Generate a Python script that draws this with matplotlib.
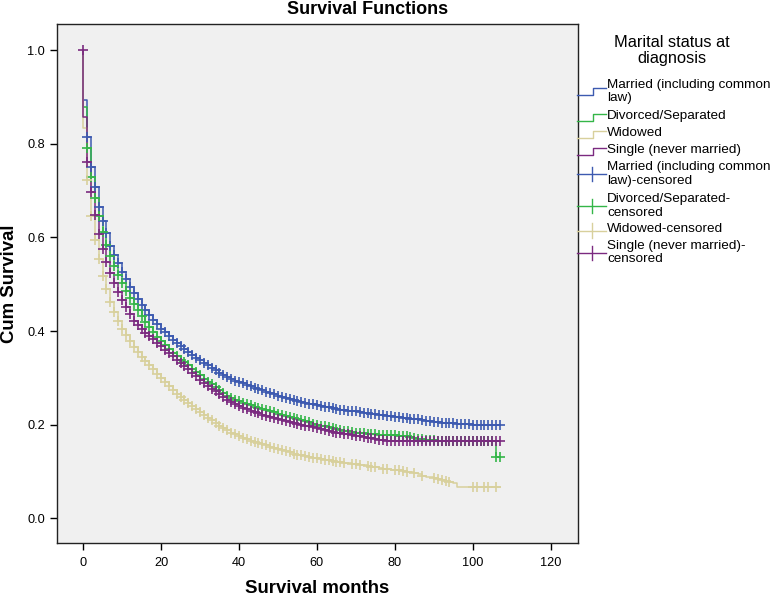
import matplotlib
matplotlib.use("Agg")
import matplotlib.pyplot as plt
from matplotlib.lines import Line2D

plt.rcParams['font.family'] = ['Liberation Sans', 'DejaVu Sans']

# ---------------- data ----------------
months = list(range(0, 108))
start_surv = 1.0

married = [0.893,0.815,0.751,0.707,0.666,0.636,0.609,0.582,0.563,0.545,
           0.527,0.511,0.495,0.481,0.468,0.456,0.445,0.434,0.424,0.414,
           0.405,0.397,0.389,0.381,0.374,0.367,0.361,0.355,0.349,0.343,
           0.338,0.332,0.327,0.322,0.316,0.311,0.306,0.301,0.297,0.294,
           0.291,0.288,0.285,0.282,0.279,0.276,0.273,0.270,0.268,0.265,
           0.262,0.260,0.257,0.255,0.252,0.250,0.248,0.246,0.245,0.243,
           0.242,0.240,0.238,0.237,0.235,0.234,0.232,0.231,0.230,0.229,
           0.228,0.227,0.225,0.224,0.223,0.222,0.221,0.220,0.219,0.218,
           0.217,0.216,0.215,0.214,0.213,0.212,0.211,0.209,0.208,0.207,
           0.206,0.205,0.204,0.204,0.203,0.203,0.202,0.202,0.201,0.201,
           0.200,0.200,0.199,0.199,0.199,0.199,0.199,0.199]

divorced = [0.878,0.792,0.730,0.684,0.645,0.612,0.584,0.560,0.538,0.519,
            0.502,0.486,0.471,0.457,0.444,0.432,0.420,0.408,0.397,0.388,
            0.379,0.370,0.362,0.354,0.346,0.339,0.333,0.327,0.319,0.312,
            0.305,0.298,0.292,0.286,0.280,0.274,0.268,0.262,0.257,0.253,
            0.250,0.247,0.244,0.241,0.238,0.236,0.233,0.231,0.228,0.226,
            0.223,0.221,0.219,0.216,0.214,0.212,0.210,0.207,0.205,0.202,
            0.200,0.198,0.196,0.194,0.192,0.190,0.188,0.187,0.186,0.184,
            0.183,0.182,0.181,0.180,0.179,0.179,0.178,0.178,0.177,0.177,
            0.177,0.176,0.176,0.175,0.173,0.171,0.170,0.169,0.168,0.167,
            0.167,0.166,0.166,0.166,0.166,0.165,0.165,0.165,0.165,0.165,
            0.165,0.165,0.165,0.165,0.165,0.165,0.130,0.130]

widowed = [0.834,0.723,0.646,0.595,0.553,0.518,0.489,0.462,0.440,0.421,
           0.405,0.391,0.378,0.366,0.355,0.345,0.336,0.327,0.318,0.308,
           0.299,0.290,0.282,0.274,0.266,0.259,0.252,0.246,0.239,0.233,
           0.227,0.221,0.215,0.209,0.203,0.198,0.193,0.188,0.183,0.179,
           0.175,0.172,0.169,0.166,0.163,0.161,0.158,0.156,0.153,0.151,
           0.148,0.146,0.143,0.141,0.138,0.136,0.134,0.132,0.131,0.129,
           0.128,0.127,0.125,0.124,0.123,0.121,0.120,0.119,0.118,0.116,
           0.115,0.114,0.113,0.111,0.110,0.109,0.108,0.106,0.105,0.104,
           0.103,0.102,0.100,0.099,0.098,0.096,0.094,0.091,0.089,0.088,
           0.086,0.084,0.081,0.079,0.077,0.075,0.067,0.067,0.067,0.067,
           0.067,0.067,0.067,0.067,0.067,0.067,0.067,0.067]

single = [0.857,0.761,0.697,0.648,0.607,0.576,0.548,0.523,0.502,0.484,
          0.467,0.451,0.436,0.422,0.413,0.404,0.396,0.389,0.382,0.374,
          0.367,0.360,0.353,0.346,0.339,0.332,0.325,0.318,0.310,0.303,
          0.296,0.289,0.283,0.277,0.271,0.265,0.259,0.253,0.248,0.244,
          0.240,0.236,0.233,0.230,0.227,0.224,0.221,0.219,0.217,0.214,
          0.212,0.210,0.208,0.206,0.204,0.202,0.200,0.198,0.196,0.195,
          0.193,0.191,0.189,0.187,0.185,0.183,0.181,0.180,0.179,0.177,
          0.176,0.175,0.174,0.172,0.171,0.170,0.168,0.167,0.166,0.165,
          0.165,0.165,0.165,0.165,0.165,0.165,0.165,0.165,0.165,0.165,
          0.165,0.165,0.165,0.165,0.165,0.165,0.165,0.165,0.165,0.165,
          0.164,0.164,0.164,0.164,0.164,0.164,0.164,0.164]

# censoring times (months with censor marks)
married_cens = list(range(1, 108))
divorced_cens = list(range(1, 108))
single_cens = list(range(1, 108))
widowed_cens = (list(range(1, 68)) + [69, 70, 71, 73, 74, 75, 77, 78, 80, 81, 82, 83,
                 85, 87, 90, 91, 92, 93, 94, 100, 101, 103, 104, 106])

labels = ["Married (including common law)", "Divorced/Separated",
          "Widowed", "Single (never married)"]
colors = ["#3d5ab0", "#34b648", "#d8d09c", "#7b2a80"]
legend_title = "Marital status at\ndiagnosis"
xticks = [0, 20, 40, 60, 80, 100, 120]
yticks = [0.0, 0.2, 0.4, 0.6, 0.8, 1.0]

# ---------------- figure ----------------
W, H = 770, 598
fig = plt.figure(figsize=(W / 100, H / 100), dpi=100)
ax = fig.add_axes([57 / W, 1 - 543 / H, (578 - 57) / W, (543 - 24) / H])
ax.set_facecolor("#f0f0f0")

series = [married, divorced, widowed, single]
cens = [married_cens, divorced_cens, widowed_cens, single_cens]

for s, c in zip(series, colors):
    xs = [months[0]] + months
    ys = [start_surv] + s
    ax.step(xs, ys, where="post", color=c, lw=1.1)

for s, ct, c in zip(series, cens, colors):
    cy = [s[months.index(t)] for t in ct]
    ax.plot(ct, cy, ls="none", marker="+", ms=6.5, mew=1.2, color=c)

# censored case at time zero (single)
ax.plot([months[0]], [start_surv], ls="none", marker="+", ms=6.5, mew=1.2, color=colors[3])

ax.set_xlim(-6.7, 127)
ax.set_ylim(-0.053, 1.056)
ax.set_xticks(xticks)
ax.set_xticklabels([str(v) for v in xticks])
ax.set_yticks(yticks)
ax.set_yticklabels([f"{v:.1f}" for v in yticks])
ax.tick_params(axis="both", direction="out", length=5, width=1, labelsize=9.2, colors="black")
ax.tick_params(axis="x", pad=5)
ax.tick_params(axis="y", pad=3.5)
for sp in ax.spines.values():
    sp.set_linewidth(1.0)
    sp.set_color("#222222")

fig.text(317.5 / W, 1 - 593 / H, "Survival months", fontsize=13.4, fontweight="bold",
         ha="center", va="baseline")
fig.text(1 / W, 1 - 283.5 / H, "Cum Survival", fontsize=13.4, fontweight="bold",
         ha="left", va="center", rotation=90)

fig.text(287 / W, 1 - 9 / H, "Survival Functions", fontsize=13, fontweight="bold",
         ha="left", va="center")

# ---------------- legend (drawn manually, SPSS style) ----------------
def fx(x):
    return x / W

def fy(y):
    return 1 - y / H

fig.text(fx(672), fy(50.5), legend_title, fontsize=11.8, ha="center", va="center",
         linespacing=1.05)

entries = [
    ("step", colors[0], ["Married (including common", "law)"], 85),
    ("step", colors[1], ["Divorced/Separated"], 116),
    ("step", colors[2], ["Widowed"], 133),
    ("step", colors[3], ["Single (never married)"], 150),
    ("cross", colors[0], ["Married (including common", "law)-censored"], 167),
    ("cross", colors[1], ["Divorced/Separated-", "censored"], 199),
    ("cross", colors[2], ["Widowed-censored"], 229),
    ("cross", colors[3], ["Single (never married)-", "censored"], 246),
]
line_gap = 13.5
for kind, c, lines, y0 in entries:
    for i, txt in enumerate(lines):
        fig.text(fx(607), fy(y0 + i * line_gap), txt, fontsize=9.7, ha="left", va="center")
    yc = y0 + (len(lines) - 1) * line_gap / 2 + (1.5 if len(lines) == 1 else 0)
    if kind == "step":
        xs = [577, 593, 593, 606]
        ys = [yc + 3.3, yc + 3.3, yc - 3.3, yc - 3.3]
        fig.add_artist(Line2D([fx(v) for v in xs], [fy(v) for v in ys], color=c, lw=1.0))
    else:
        fig.add_artist(Line2D([fx(577), fx(606)], [fy(yc), fy(yc)], color=c, lw=1.0))
        fig.add_artist(Line2D([fx(592), fx(592)], [fy(yc - 7), fy(yc + 7)], color=c, lw=1.0))

fig.savefig("out.png", dpi=100)
